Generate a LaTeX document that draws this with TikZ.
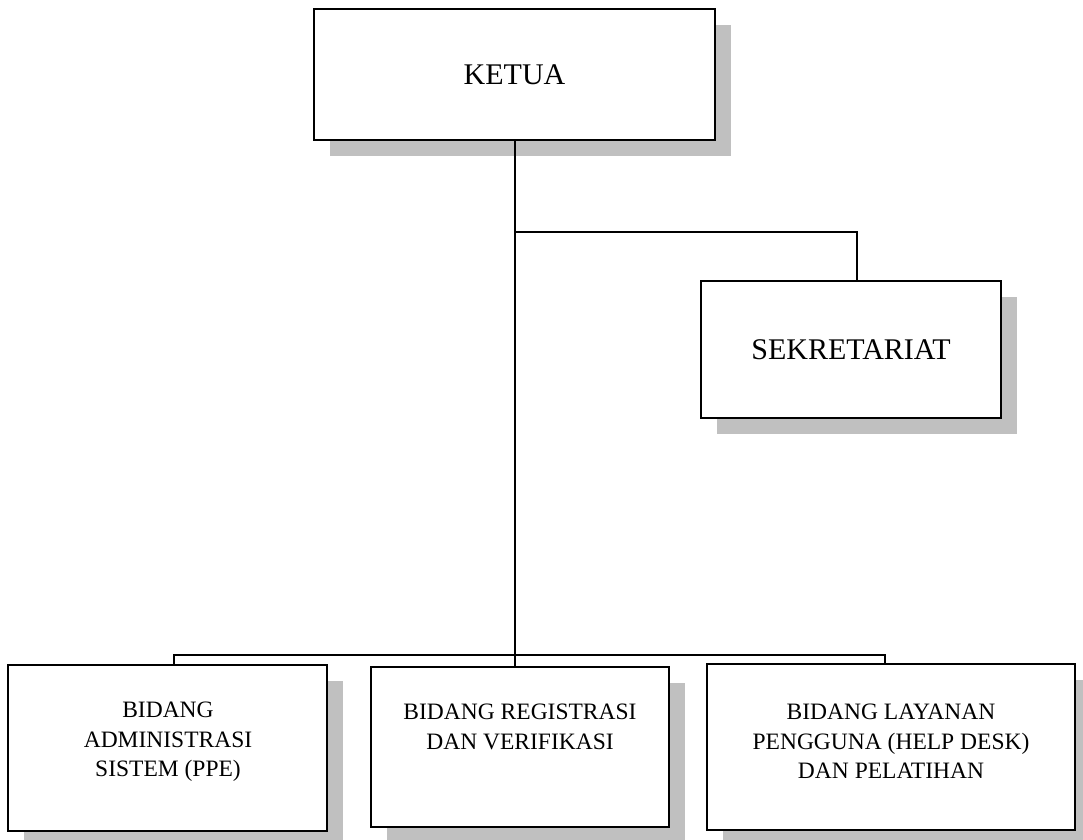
\documentclass[tikz,border=0pt]{standalone}
\usepackage{fontspec}
\setmainfont{Liberation Serif}
\usetikzlibrary{shadows}
\definecolor{shgray}{HTML}{C0C0C0}
\tikzset{
  orgbox/.style={draw=black, line width=2pt, fill=white, inner sep=0pt, outer sep=0pt,
    drop shadow={shadow xshift=16pt, shadow yshift=-16pt, fill=shgray, opacity=1}},
  bigtxt/.style={font=\fontsize{30}{36}\selectfont},
  smalltxt/.style={font=\fontsize{23.5}{29.5}\selectfont, align=center, inner sep=0pt, anchor=north},
  conn/.style={draw=black, line width=1.5pt}
}
\begin{document}
\begin{tikzpicture}[x=1pt,y=-1pt]
\useasboundingbox (0,0) rectangle (1083,839);
\node[orgbox, bigtxt, minimum width=401pt, minimum height=131pt] (ketua) at (514.5,74.5) {KETUA};
\node[orgbox, bigtxt, minimum width=300pt, minimum height=137pt] (sek) at (851,349.5) {SEKRETARIAT};
\node[orgbox, minimum width=319pt, minimum height=166pt] (b1) at (167.5,748) {};
\node[orgbox, minimum width=298pt, minimum height=160pt] (b2) at (520,747) {};
\node[orgbox, minimum width=368pt, minimum height=166pt] (b3) at (891,747) {};
\node[smalltxt] (t1) at (168,702) {BIDANG\\ADMINISTRASI\\SISTEM (PPE)};
\node[smalltxt] (t2) at (520,704) {BIDANG REGISTRASI\\DAN VERIFIKASI};
\node[smalltxt] (t3) at (891,704) {BIDANG LAYANAN\\PENGGUNA (HELP DESK)\\DAN PELATIHAN};
\coordinate (j1) at (515,232);
\coordinate (j2) at (515,655);
\draw[conn] (j1 |- ketua.south) -- (j1 |- b2.north);
\draw[conn] (j1) -| ([xshift=6pt]sek.north);
\draw[conn] ([xshift=6.5pt]b1.north) -- ++(0,-10) -| ([xshift=-6pt]b3.north);
\end{tikzpicture}
\end{document}
